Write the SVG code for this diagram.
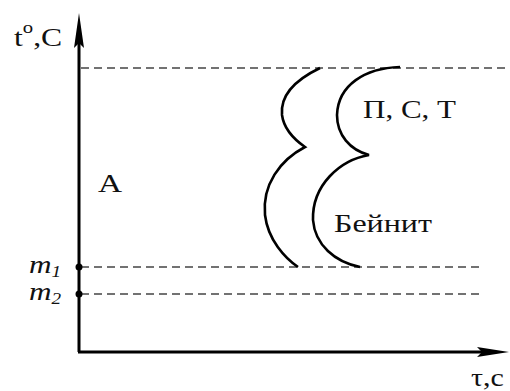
<svg xmlns="http://www.w3.org/2000/svg" width="510" height="391" viewBox="0 0 510 391">
<style>
.txt{font-family:"Liberation Serif","Times New Roman",serif;fill:#111}
.dash{stroke:#444;stroke-width:1.6;stroke-dasharray:8 5;fill:none}
.curve{stroke:#000;stroke-width:2.6;fill:none;stroke-linejoin:miter}
.axis{stroke:#000;stroke-width:3;fill:none}
</style>
<rect width="510" height="391" fill="#fff"/>
<g id="connectors">
<line class="axis" x1="79" y1="40" x2="79" y2="352"/>
<line class="axis" x1="78" y1="352" x2="485" y2="352"/>
<path d="M79,13 L84,48 L79,43 L74,48 Z" fill="#000"/>
<path d="M509,352 L477,347 L482,352 L477,357 Z" fill="#000"/>
<line class="dash" x1="81" y1="68" x2="505" y2="68"/>
<line class="dash" x1="81" y1="267" x2="482" y2="267"/>
<line class="dash" x1="81" y1="294" x2="482" y2="294"/>
<circle cx="79" cy="267" r="3.5" fill="#000"/>
<circle cx="79" cy="294" r="3.5" fill="#000"/>
</g>
<g id="curve1"><path class="curve" d="M320,68 C295,80 280,95 282,115 C284,130 295,140 305,147 C280,160 262,185 265,215 C268,240 285,258 298,267"/></g>
<g id="curve2"><path class="curve" d="M400,67 C365,68 338,85 337,115 C337,135 350,150 369,155 C340,160 312,185 313,220 C315,245 335,262 360,267"/></g>
<g id="axis-y-label"><text class="txt" transform="translate(14,46) scale(1.22,1)" font-size="26">t<tspan font-size="17" dy="-13">o</tspan><tspan dy="13">,C</tspan></text></g>
<g id="label-A"><text class="txt" x="98" y="192" font-size="26" textLength="24" lengthAdjust="spacingAndGlyphs">A</text></g>
<g id="label-PST"><text class="txt" x="363" y="118" font-size="26" textLength="93" lengthAdjust="spacingAndGlyphs">П, С, Т</text></g>
<g id="label-bainite"><text class="txt" x="334" y="232" font-size="26" textLength="98" lengthAdjust="spacingAndGlyphs">Бейнит</text></g>
<g id="label-m1"><text class="txt" transform="translate(29,273) scale(1.2,1)" font-size="26" font-style="italic">m<tspan font-size="16" dy="4">1</tspan></text></g>
<g id="label-m2"><text class="txt" transform="translate(29,300) scale(1.2,1)" font-size="26" font-style="italic">m<tspan font-size="16" dy="4">2</tspan></text></g>
<g id="axis-x-label"><text class="txt" transform="translate(471,386) scale(1.2,1)" font-size="25">τ,c</text></g>
</svg>
